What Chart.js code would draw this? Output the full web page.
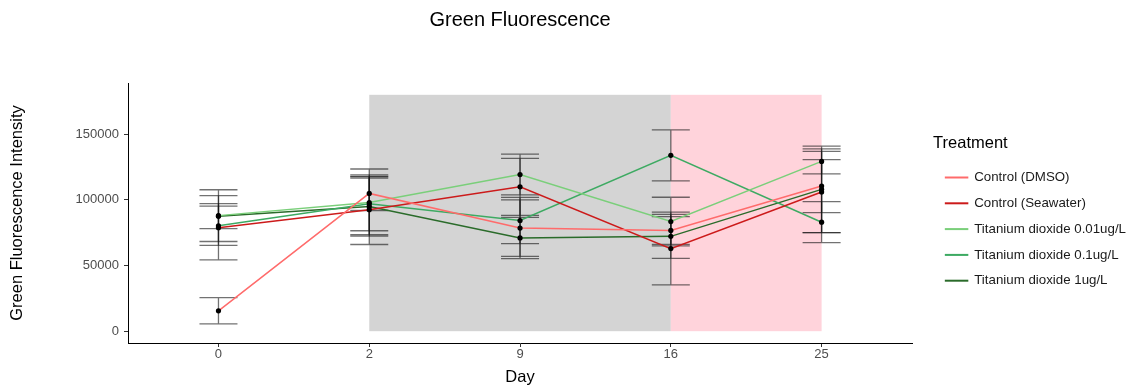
<!DOCTYPE html>
<html>
<head>
<meta charset="utf-8">
<script src="https://cdn.jsdelivr.net/npm/chart.js@4.4.1/dist/chart.umd.min.js"></script>
<style>
  html, body { margin: 0; padding: 0; background: #fff; }
  #wrap { width: 1132px; height: 385px; }
</style>
</head>
<body>
<div id="wrap"><canvas id="myChart"></canvas></div>
<script>
const days = ['0', '2', '9', '16', '25'];
const treatments = ['Control (DMSO)', 'Control (Seawater)', 'Titanium dioxide 0.01ug/L', 'Titanium dioxide 0.1ug/L', 'Titanium dioxide 1ug/L'];

// srednie i odchylenia
const dmsoMean = [15500, 104900, 78500, 76700, 110500];
const dmsoSd = [10000, 13000, 21500, 10600, 20200];
const seawaterMean = [78800, 92500, 109900, 62900, 106000];
const seawaterSd = [24500, 26500, 21700, 27700, 31000];
const tio001Mean = [88000, 98000, 119300, 83500, 129300];
const tio001Sd = [19700, 25500, 15500, 18500, 9500];
const tio01Mean = [80300, 97000, 84300, 133900, 83000];
const tio01Sd = [15000, 20500, 17600, 19400, 15600];
const tio1Mean = [87600, 95000, 71000, 72200, 108000];
const tio1Sd = [9500, 21500, 15700, 16700, 33000];

const yTicks = [0, 50000, 100000, 150000];

// okresy zaznaczone tlem (indeksy dni) i wysokosc tla
const shadeFrom = [1, 3];
const shadeTo = [3, 4];
const shadeTop = 180000;

const means = [dmsoMean, seawaterMean, tio001Mean, tio01Mean, tio1Mean];
const sds = [dmsoSd, seawaterSd, tio001Sd, tio01Sd, tio1Sd];
const colors = ['#FF6B6B', '#CC1A1A', '#7ACF7A', '#3DAA62', '#2A6B2A'];
const shadeColors = ['#D4D4D4', '#FFD3DB'];

const font = "'Liberation Sans', Arial, Helvetica, sans-serif";

const backgroundPlugin = {
    id: 'background',
    beforeDatasetsDraw(chart) {
        const ctx = chart.ctx;
        const x = chart.scales.x;
        const y = chart.scales.y;
        ctx.save();
        shadeFrom.forEach((from, k) => {
            const left = x.getPixelForValue(from);
            const right = x.getPixelForValue(shadeTo[k]);
            const top = y.getPixelForValue(shadeTop);
            const bottom = y.getPixelForValue(0);
            ctx.fillStyle = shadeColors[k];
            ctx.fillRect(left, top, right - left, bottom - top);
        });

        // slupki bledow
        ctx.strokeStyle = 'rgba(20, 20, 20, 0.6)';
        ctx.lineWidth = 1.3;
        means.forEach((serie, s) => {
            serie.forEach((m, i) => {
                const px = x.getPixelForValue(i);
                const yTop = y.getPixelForValue(m + sds[s][i]);
                const yBot = y.getPixelForValue(m - sds[s][i]);
                ctx.beginPath();
                ctx.moveTo(px, yTop);
                ctx.lineTo(px, yBot);
                ctx.moveTo(px - 19, yTop);
                ctx.lineTo(px + 19, yTop);
                ctx.moveTo(px - 19, yBot);
                ctx.lineTo(px + 19, yBot);
                ctx.stroke();
            });
        });
        ctx.restore();
    }
};

document.addEventListener('DOMContentLoaded', function() {
    const ctx = document.getElementById('myChart').getContext('2d');

    const datasets = treatments.map((name, s) => ({
        label: name,
        data: means[s].map((v, i) => ({x: i, y: v})),
        borderColor: colors[s],
        backgroundColor: colors[s],
        borderWidth: 1.5,
        pointRadius: 2.6,
        pointBorderWidth: 0,
        pointBackgroundColor: '#000',
        pointBorderColor: '#000',
        pointHoverRadius: 2.6,
        fill: false,
        tension: 0
    }));

    new Chart(ctx, {
        type: 'line',
        data: { datasets: datasets },
        plugins: [backgroundPlugin],
        options: {
            responsive: true,
            maintainAspectRatio: false,
            animation: false,
            layout: { padding: { left: 0, right: -4, top: 0, bottom: 0 } },
            plugins: {
                tooltip: { enabled: false },
                title: {
                    display: true,
                    text: 'Green Fluorescence',
                    fullSize: false,
                    color: '#000',
                    font: { family: font, size: 20, weight: 'normal' },
                    padding: { top: 8, bottom: 51 }
                },
                legend: {
                    position: 'right',
                    align: 'center',
                    maxWidth: 400,
                    title: {
                        display: true,
                        text: 'Treatment',
                        position: 'start',
                        color: '#000',
                        font: { family: font, size: 16.5 },
                        padding: { top: 50, bottom: 3.4 }
                    },
                    labels: {
                        boxWidth: 22,
                        boxHeight: 0.5,
                        padding: 12.5,
                        color: '#1a1a1a',
                        font: { family: font, size: 13.3 }
                    }
                }
            },
            scales: {
                x: {
                    type: 'linear',
                    min: -0.6,
                    max: 4.6,
                    afterBuildTicks: s => { s.ticks = days.map((d, i) => ({value: i})); },
                    afterFit: s => { s.height = 42; },
                    ticks: {
                        callback: v => days[v],
                        color: '#4D4D4D',
                        padding: 0,
                        font: { family: font, size: 13 }
                    },
                    grid: { drawOnChartArea: false, drawTicks: true, tickLength: 4, tickColor: '#333' },
                    border: { display: true, color: '#000', width: 1 },
                    title: {
                        display: true,
                        text: 'Day',
                        color: '#000',
                        font: { family: font, size: 16.5 },
                        padding: { top: 0, bottom: -2 }
                    }
                },
                y: {
                    min: -9000,
                    max: 189000,
                    afterBuildTicks: s => { s.ticks = yTicks.map(v => ({value: v})); },
                    afterFit: s => { s.width = 128; },
                    ticks: {
                        callback: v => String(v),
                        color: '#4D4D4D',
                        padding: 5,
                        font: { family: font, size: 13 }
                    },
                    grid: { drawOnChartArea: false, drawTicks: true, tickLength: 4, tickColor: '#333' },
                    border: { display: true, color: '#000', width: 1 },
                    title: {
                        display: true,
                        text: 'Green Fluorescence Intensity',
                        color: '#000',
                        font: { family: font, size: 16.5 },
                        padding: { top: 8, bottom: 0 }
                    }
                },
                y2: {
                    position: 'right',
                    display: true,
                    afterFit: s => { s.width = 21; },
                    ticks: { display: false },
                    grid: { display: false },
                    border: { display: false }
                }
            }
        }
    });
});
</script>
</body>
</html>
